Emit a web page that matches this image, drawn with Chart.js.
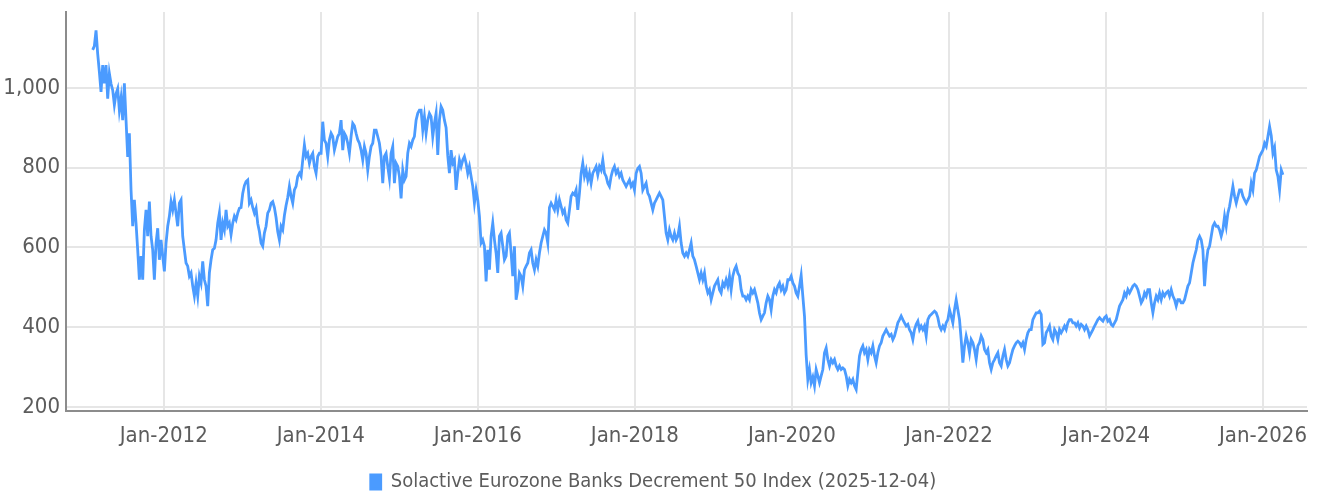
<!DOCTYPE html>
<html>
<head>
<meta charset="utf-8">
<script src="https://cdn.jsdelivr.net/npm/chart.js@4.4.1/dist/chart.umd.min.js"></script>
<style>
  html, body { margin: 0; padding: 0; background: #fff; }
</style>
</head>
<body>
<canvas id="grafico-linea" width="1317" height="495"></canvas>
<script>
// Datos (una lectura cada ~7.75 dias)
const nombreSerie = "Solactive Eurozone Banks Decrement 50 Index (2025-12-04)";
const inicioSerie = 2011.095; // año decimal de la primera lectura
const pasoSerie = 0.02123;    // años entre lecturas
const valores = [
  1095,1105,1144,1085,1040,990,1057,1011,1057,973,
  1036,1010,994,957,985,998,944,975,919,1011,
  919,827,886,744,653,719,660,594,519,578,
  519,644,694,628,715,628,594,519,611,648,
  569,619,578,540,611,653,678,715,694,719,
  686,653,711,719,628,594,561,553,528,536,
  503,478,511,478,528,511,565,519,503,453,
  536,569,594,598,619,661,686,619,661,644,
  694,653,661,632,661,678,669,686,698,
  700,735,755,765,769,711,719,700,686,698,
  660,640,611,603,636,653,686,694,711,715,
  700,675,640,619,653,644,680,705,725,753,
  728,711,744,753,778,786,778,819,857,828,
  836,811,828,836,803,786,828,836,836,915,
  869,861,828,869,886,878,844,861,878,886,
  919,844,886,878,861,836,878,911,905,886,
  870,861,844,819,853,836,794,828,853,861,
  894,894,878,861,828,761,828,836,803,773,
  836,853,
  761,811,803,778,723,794,769,778,836,861,
  853,869,878,919,936,944,944,894,928,886,
  919,936,928,878,911,936,832,919,953,944,
  919,900,830,786,844,811,819,744,786,819,
  803,819,828,811,786,803,778,753,711,744,
  719,678,611,619,603,515,594,544,628,661,
  619,586,536,628,636,603,569,578,628,636,
  586,528,603,469,494,536,528,503,544,553,
  561,586,594,561,544,569,553,586,611,628,
  644,636,611,
  700,711,703,694,719,694,719,703,686,694,
  669,661,694,728,736,732,744,694,736,786,
  811,778,794,769,786,761,786,794,803,782,
  803,794,819,786,778,761,753,778,794,803,
  786,794,778,786,769,761,753,761,769,753,
  761,744,786,798,803,786,744,753,761,736,
  728,711,694,711,719,728,736,728,719,678,
  636,619,644,628,619,636,619,628,653,611,
  586,578,586,578,594,611,578,569,553,536,
  519,536,519,
  536,503,486,494,469,486,503,511,519,494,
  486,511,503,519,503,528,494,528,544,553,
  536,528,494,478,478,469,478,469,494,486,
  494,478,461,436,419,428,436,461,478,469,
  444,478,494,486,503,511,494,503,486,494,
  519,519,528,511,503,486,478,503,530,478,
  428,330,269,294,261,275,253,294,278,261,
  278,294,336,348,319,303,319,311,319,303,
  294,303,294,298,294,278,253,269,261,269,
  253,244,286,
  328,344,353,336,344,319,344,336,353,328,
  311,336,353,361,378,386,394,386,378,382,
  369,378,394,411,419,428,419,411,403,407,
  394,386,369,394,407,415,394,403,394,403,
  378,419,428,432,436,440,436,424,403,394,
  403,394,411,419,444,428,411,444,469,444,
  419,369,311,353,378,361,336,369,361,344,
  319,353,361,378,369,344,336,344,311,294,
  311,319,328,336,311,303,328,344,319,303,
  311,328,344,
  353,361,365,361,353,361,344,369,386,394,
  394,419,428,436,436,440,432,357,361,386,
  394,403,378,369,394,386,369,394,386,394,
  403,394,411,419,419,411,411,403,411,398,
  407,403,394,403,394,378,386,394,403,411,
  419,424,419,415,424,428,415,419,407,403,
  411,419,436,453,461,469,486,478,494,486,
  494,503,507,503,494,478,461,469,486,478,
  494,494,461,436,461,478,469,486,469,486,
  478,486,490,
  478,494,478,469,453,469,469,461,461,469,
  486,503,511,536,561,578,594,619,628,619,
  594,503,561,594,603,628,653,661,653,653,
  644,628,644,678,653,686,703,728,753,728,
  711,728,744,744,728,719,711,719,728,761,
  744,786,794,811,828,836,844,861,853,878,
  903,880,836,850,794,778,744,794,782
];
const marcasX = [2012, 2014, 2016, 2018, 2020, 2022, 2024, 2026];
const marcasY = [200, 400, 600, 800, 1000];

const familia = "'DejaVu Sans Condensed', 'Liberation Sans Narrow', sans-serif";
const colorTexto = "#5c5c5c";
const colorRejilla = "#e6e6e6";
const colorEje = "#8c8c8c";

function crearGraficoLinea() {
  const puntos = valores.map((v, i) => ({ x: inicioSerie + i * pasoSerie, y: v }));
  const ctx = document.getElementById("grafico-linea").getContext("2d");
  new Chart(ctx, {
    type: "line",
    data: {
      datasets: [
        {
          label: nombreSerie,
          data: puntos,
          borderColor: "#4b9bff",
          backgroundColor: "#4b9bff",
          borderWidth: 2.8,
          pointRadius: 0,
          tension: 0,
        },
      ],
    },
    options: {
      responsive: false,
      animation: false,
      devicePixelRatio: 1,
      layout: { padding: { top: 12, right: 10, left: 0, bottom: -7 } },
      plugins: {
        tooltip: { enabled: false },
        legend: {
          position: "bottom",
          labels: {
            boxWidth: 10,
            boxHeight: 14,
            padding: 10,
            color: colorTexto,
            font: { family: familia, size: 20 },
          },
        },
      },
      scales: {
        x: {
          type: "linear",
          min: 2010.755,
          max: 2026.56,
          afterBuildTicks: (eje) => {
            eje.ticks = marcasX.map((v) => ({ value: v }));
          },
          afterFit: (eje) => {
            eje.height = 51;
            eje.paddingLeft = 0;
            eje.paddingRight = 0;
          },
          ticks: {
            autoSkip: false,
            maxRotation: 0,
            padding: 12,
            color: colorTexto,
            font: { family: familia, size: 22 },
            callback: (v) => "Jan-" + v,
          },
          grid: { color: colorRejilla, lineWidth: 2, drawTicks: false },
          border: { color: colorEje, width: 2 },
        },
        y: {
          min: 190,
          max: 1190,
          afterBuildTicks: (eje) => {
            eje.ticks = marcasY.map((v) => ({ value: v }));
          },
          afterFit: (eje) => {
            eje.width = 66;
            eje.paddingTop = 0;
            eje.paddingBottom = 0;
          },
          ticks: {
            padding: 6,
            color: colorTexto,
            font: { family: familia, size: 22 },
          },
          grid: { color: colorRejilla, lineWidth: 2, drawTicks: false },
          border: { color: colorEje, width: 2 },
        },
      },
    },
  });
}

document.addEventListener("DOMContentLoaded", () => {
  crearGraficoLinea();
});
</script>
</body>
</html>
